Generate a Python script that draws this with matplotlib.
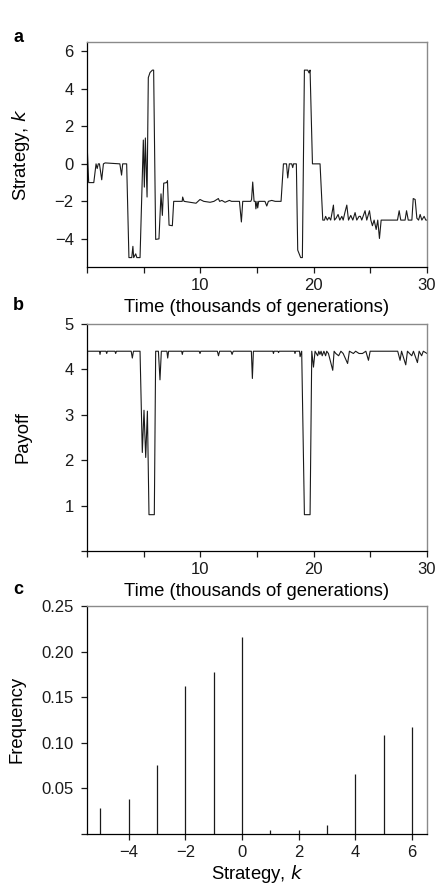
import numpy as np
import matplotlib
matplotlib.use("Agg")
import matplotlib.pyplot as plt

plt.rcParams["font.family"] = ["Liberation Sans", "DejaVu Sans"]

# ── Data ──────────────────────────────────────────────────────
# a: strategy k over time (thousands of generations)
strat_t = [0.0, 0.15, 0.6, 0.8, 0.9, 1.0, 1.1, 1.3, 1.45, 1.6, 2.9, 3.05, 3.15, 3.5,
           3.7, 3.95, 4.05, 4.12, 4.3, 4.4, 4.68, 4.97, 5.06, 5.15, 5.3, 5.41, 5.56,
           5.77, 5.88, 6.06, 6.35, 6.53, 6.65, 6.77, 7.03, 7.1, 7.24, 7.53, 7.65,
           8.4, 8.44, 8.56, 9.09, 9.62, 9.97, 10.3, 10.86, 11.2, 11.59, 11.7, 11.9,
           12.18, 12.56, 12.75, 13.45, 13.62, 13.74, 14.45, 14.52, 14.62, 14.74,
           14.85, 14.9, 15.0, 15.06, 15.15, 15.7, 15.86, 16.0, 16.3, 16.6, 17.12,
           17.33, 17.6, 17.71, 17.85, 18.06, 18.15, 18.22, 18.47, 18.59, 18.72,
           18.85, 19.0, 19.18, 19.47, 19.59, 19.68, 19.89, 20.56, 20.8, 20.95,
           21.05, 21.2, 21.35, 21.5, 21.74, 21.83, 21.97, 22.15, 22.3, 22.48, 22.6,
           22.75, 22.92, 23.07, 23.27, 23.45, 23.65, 23.8, 24.0, 24.12, 24.24, 24.53,
           24.68, 24.92, 25.04, 25.18, 25.33, 25.51, 25.65, 25.8, 25.95, 27.39,
           27.54, 27.68, 28.06, 28.19, 28.34, 28.66, 28.78, 28.95, 29.1, 29.25,
           29.39, 29.54, 29.74, 29.89, 30.0]
strat_k = [1.2, -1.0, -1.0, 0.0, -0.25, 0.0, 0.0, -0.85, 0.0, 0.05, 0.0, -0.6, 0.0, 0.0,
           -5.0, -5.0, -4.4, -5.0, -4.8, -5.0, -5.0, 1.27, -1.24, 1.38, -1.77, 4.6, 4.87,
           5.0, 5.0, -4.03, -4.0, -1.6, -2.75, -1.03, -1.0, -0.9, -3.27, -3.3, -2.0,
           -2.0, -1.77, -2.0, -2.05, -2.1, -1.9, -2.0, -2.05, -2.0, -1.85, -2.0, -1.95,
           -2.05, -1.95, -2.0, -2.0, -3.1, -2.0, -2.0, -1.9, -0.97, -2.0,
           -2.0, -2.4, -2.0, -2.35, -2.0, -2.0, -2.25, -2.0, -1.95, -2.0, -2.0,
           0.0, 0.0, -0.75, 0.0, 0.0, -0.2, 0.0, 0.0, -4.6, -4.8,
           -5.0, -5.0, 5.0, 5.0, 4.85, 5.0, 0.0, 0.0, -3.0, -3.0,
           -2.8, -3.0, -2.85, -3.0, -2.2, -3.0, -2.9, -2.7, -3.0, -2.8, -3.0,
           -2.6, -2.2, -3.0, -2.75, -3.0, -2.6, -3.0, -2.8, -2.8, -3.0, -2.5,
           -3.0, -2.5, -3.0, -3.3, -3.0, -3.5, -3.0, -3.98, -3.0, -3.0,
           -2.5, -3.0, -3.0, -2.5, -3.0, -3.0, -1.85, -1.9, -2.9, -3.0,
           -2.7, -3.0, -2.8, -3.0, -3.0]

# b: payoff over time
pay_t = [0.0, 0.05, 1.1, 1.15, 1.2, 1.68, 1.74, 1.8, 2.47, 2.53, 2.6, 3.9, 4.0, 4.1,
         4.6, 4.68, 4.88, 5.03, 5.18, 5.33, 5.47, 5.94, 6.06, 6.3, 6.44, 6.56, 7.05,
         7.12, 7.2, 8.35, 8.41, 8.47, 9.9, 9.97, 10.04, 11.5, 11.6, 11.7, 12.7, 12.8,
         12.9, 14.5, 14.59, 14.68, 16.4, 16.45, 16.5, 16.85, 16.9, 16.95, 18.3, 18.35,
         18.4, 18.75, 18.8, 18.94, 19.18, 19.68, 19.83, 19.98, 20.12, 20.35, 20.45,
         20.55, 20.65, 20.75, 20.9, 21.05, 21.15, 21.3, 21.68, 21.8, 21.95, 22.2,
         22.4, 22.6, 22.99, 23.15, 23.5, 23.7, 24.0, 24.3, 24.6, 24.83, 24.98, 27.41,
         27.62, 27.75, 28.12, 28.27, 28.65, 28.8, 29.15, 29.3, 29.52, 29.67, 30.0]
pay_v = [0.8, 4.4, 4.4, 4.33, 4.4, 4.4, 4.35, 4.4, 4.4, 4.35, 4.4, 4.4, 4.25, 4.4,
         4.4, 4.4, 2.17, 3.1, 2.06, 3.08, 0.8, 0.8, 4.4, 4.4, 3.77, 4.4, 4.4,
         4.25, 4.4, 4.4, 4.33, 4.4, 4.4, 4.35, 4.4, 4.4, 4.3, 4.4, 4.4, 4.33,
         4.4, 4.4, 3.8, 4.4, 4.4, 4.35, 4.4, 4.4, 4.37, 4.4, 4.4, 4.35,
         4.4, 4.4, 4.28, 4.4, 0.8, 0.8, 4.4, 4.05, 4.4, 4.3, 4.4,
         4.33, 4.4, 4.3, 4.4, 4.3, 4.4, 4.35, 3.98, 4.4, 4.35, 4.3,
         4.4, 4.35, 4.13, 4.4, 4.35, 4.4, 4.35, 4.35, 4.4, 4.2, 4.4, 4.4,
         4.2, 4.4, 4.1, 4.4, 4.3, 4.4, 4.15, 4.4, 4.3, 4.4, 4.35]

# c: frequency of each strategy
strategies = [-5, -4, -3, -2, -1, 0, 1, 2, 3, 4, 5, 6]
frequency  = [0.028, 0.038, 0.0755, 0.162, 0.1775, 0.2155, 0.0045, 0.0047, 0.0095,
              0.0655, 0.1085, 0.117]

time_ticks  = [0, 5, 10, 15, 20, 25, 30]
time_labels = ["", "", "10", "", "20", "", "30"]

# ── Figure ────────────────────────────────────────────────────
fig = plt.figure(figsize=(4.36, 8.84), dpi=100)
ax_a = fig.add_axes([0.1995, 0.698, 0.780, 0.2545])
ax_b = fig.add_axes([0.1995, 0.3767, 0.780, 0.2568])
ax_c = fig.add_axes([0.1995, 0.0566, 0.780, 0.258])

LINE = "#1a1a1a"
TICK_FS = 12
LABEL_FS = 13.3


def style(ax):
    for side in ["left", "bottom"]:
        ax.spines[side].set_color("black")
        ax.spines[side].set_linewidth(0.9)
    for side in ["top", "right"]:
        ax.spines[side].set_color("#8a8a8a")
        ax.spines[side].set_linewidth(1.0)
    ax.tick_params(direction="out", length=4.5, width=0.9, labelsize=TICK_FS,
                   colors="#1a1a1a")
    ax.tick_params(axis="y", pad=5)
    ax.tick_params(axis="x", pad=3.5)


# a
ax_a.plot(strat_t, strat_k, color=LINE, lw=0.8)
ax_a.set_xlim(0, 30)
ax_a.set_ylim(-5.5, 6.5)
ax_a.set_yticks([-4, -2, 0, 2, 4, 6])
ax_a.set_xticks(time_ticks)
ax_a.set_xticklabels(time_labels)
ax_a.set_ylabel("Strategy, $\\it{k}$", fontsize=LABEL_FS)
ax_a.set_xlabel("Time (thousands of generations)", fontsize=LABEL_FS, labelpad=4)
style(ax_a)
ax_a.yaxis.set_label_coords(-0.162, 0.5)

# b
ax_b.plot(pay_t, pay_v, color=LINE, lw=0.8)
ax_b.set_xlim(0, 30)
ax_b.set_ylim(0, 5)
ax_b.set_yticks([0, 1, 2, 3, 4, 5])
ax_b.set_yticklabels(["", "1", "2", "3", "4", "5"])
ax_b.set_xticks(time_ticks)
ax_b.set_xticklabels(time_labels)
ax_b.set_ylabel("Payoff", fontsize=LABEL_FS)
ax_b.set_xlabel("Time (thousands of generations)", fontsize=LABEL_FS, labelpad=4)
style(ax_b)
ax_b.yaxis.set_label_coords(-0.162, 0.5)

# c
ax_c.vlines(strategies, 0, frequency, color=LINE, lw=0.9)
ax_c.set_xlim(-5.47, 6.53)
ax_c.set_ylim(0, 0.25)
ax_c.set_xticks([-4, -2, 0, 2, 4, 6])
ax_c.set_yticks([0, 0.05, 0.10, 0.15, 0.20, 0.25])
ax_c.set_yticklabels(["", "0.05", "0.10", "0.15", "0.20", "0.25"])
ax_c.set_ylabel("Frequency", fontsize=LABEL_FS)
ax_c.set_xlabel("Strategy, $\\it{k}$", fontsize=LABEL_FS, labelpad=2)
style(ax_c)
ax_c.yaxis.set_label_coords(-0.18, 0.5)

# panel letters
for letter, y in [("a", 38), ("b", 305), ("c", 589)]:
    fig.text(13 / 436, 1 - y / 884, letter, fontsize=13, fontweight="bold",
             ha="left", va="center")

fig.savefig("out.png", dpi=100)
